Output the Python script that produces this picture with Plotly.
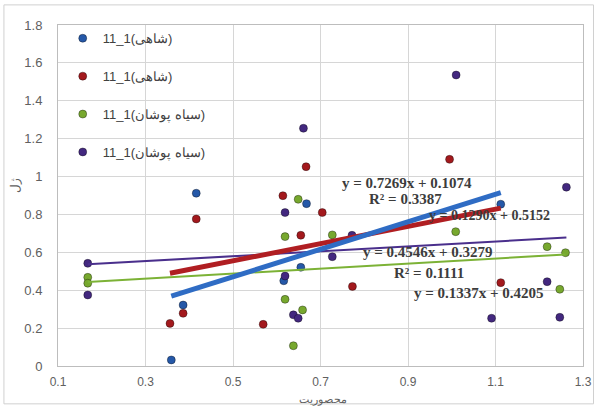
import plotly.graph_objects as go

# ---- data ----
series_names = ["11_1(شاهی)", "11_1(شاهی)", "11_1(سیاه پوشان)", "11_1(سیاه پوشان)"]

blue_x = [0.359, 0.386, 0.416, 0.616, 0.655, 0.668, 1.112]
blue_y = [0.032, 0.322, 0.912, 0.450, 0.521, 0.857, 0.854]

red_x = [0.356, 0.386, 0.416, 0.569, 0.614, 0.655, 0.667, 0.704, 0.773, 0.995, 1.112]
red_y = [0.225, 0.278, 0.776, 0.220, 0.899, 0.690, 1.052, 0.810, 0.420, 1.091, 0.440]

green_x = [0.168, 0.168, 0.619, 0.619, 0.638, 0.649, 0.659, 0.727, 1.009, 1.218, 1.247, 1.260]
green_y = [0.468, 0.437, 0.683, 0.352, 0.107, 0.880, 0.296, 0.692, 0.709, 0.630, 0.405, 0.598]

purple_x = [0.168, 0.168, 0.619, 0.619, 0.638, 0.649, 0.661, 0.727, 0.772, 1.010, 1.091, 1.218, 1.247, 1.262]
purple_y = [0.542, 0.375, 0.810, 0.475, 0.270, 0.252, 1.255, 0.577, 0.690, 1.536, 0.252, 0.445, 0.257, 0.944]

# trend line coefficients (slope, intercept) per series: blue, red, green, purple
trend_slope = [0.7269, 0.4546, 0.1337, 0.1290]
trend_intercept = [0.1074, 0.3279, 0.4205, 0.5152]

eq_texts = ["y = 0.7269x + 0.1074", "R² = 0.3387", "y = 0.1290x + 0.5152",
            "y = 0.4546x + 0.3279", "R² = 0.1111", "y = 0.1337x + 0.4205"]
eq_x = [0.898, 0.894, 1.228, 0.946, 0.948, 1.063]
eq_y = [0.966, 0.882, 0.792, 0.602, 0.491, 0.385]
eq_anchor = ["center", "center", "right", "center", "center", "center"]
eq_size = [15, 15, 14, 15, 15, 15]

x_title = "محصوریت"
y_title = "ژل"

# ---- styling ----
marker_colors = ["#2558a8", "#a3191d", "#77a82e", "#43287f"]
line_colors = ["#2f6cc4", "#b01e22", "#7cb236", "#4a2f8c"]
line_widths = [5, 5, 2, 2]

xs = [blue_x, red_x, green_x, purple_x]
ys = [blue_y, red_y, green_y, purple_y]

fig = go.Figure()

for i in range(4):
    fig.add_trace(go.Scatter(
        x=xs[i], y=ys[i], mode="markers", name=series_names[i],
        legendgroup="g%d" % i,
        marker=dict(size=8, color=marker_colors[i],
                    line=dict(width=1, color="rgba(0,0,0,0.35)")),
    ))

for t, ax, ay, anc, fs in zip(eq_texts, eq_x, eq_y, eq_anchor, eq_size):
    fig.add_annotation(x=ax, y=ay, text="<b>%s</b>" % t, showarrow=False,
                       xanchor=anc, yanchor="middle",
                       font=dict(family="Liberation Serif", size=fs, color="#3c3c3c"))

# trend lines over each series' x range
for i in [3, 2, 1, 0]:
    x0, x1 = min(xs[i]), max(xs[i])
    fig.add_trace(go.Scatter(
        x=[x0, x1],
        y=[trend_slope[i] * x0 + trend_intercept[i], trend_slope[i] * x1 + trend_intercept[i]],
        mode="lines", line=dict(color=line_colors[i], width=line_widths[i]),
        showlegend=False, hoverinfo="skip",
    ))

# axis titles
fig.add_annotation(xref="paper", yref="paper", x=0.504, y=-0.094, text=x_title,
                   showarrow=False, xanchor="center", yanchor="middle",
                   font=dict(family="Noto Sans", size=11, color="#606060"))
fig.add_annotation(xref="paper", yref="paper", x=-0.083, y=0.53, text=y_title,
                   showarrow=False, textangle=-90, xanchor="center", yanchor="middle",
                   font=dict(family="Noto Sans", size=12, color="#606060"))

# outer chart border
fig.add_shape(type="rect", xref="paper", yref="paper",
              x0=-0.103, x1=1.02, y0=-0.111, y1=1.059,
              line=dict(color="#d0d0d0", width=1), layer="below")

axis_common = dict(showgrid=True, gridcolor="#d6d6d6", gridwidth=1,
                   showline=True, linecolor="#bdbdbd", linewidth=1, mirror=True,
                   zeroline=False, ticks="",
                   tickfont=dict(family="Liberation Sans", size=12, color="#606060"))

fig.update_xaxes(range=[0.1, 1.3], tick0=0.1, dtick=0.2, ticklabelstandoff=5,
                 **axis_common)
fig.update_yaxes(range=[0, 1.8], tick0=0, dtick=0.2, ticklabelstandoff=12,
                 tickfont=dict(family="Liberation Sans", size=13, color="#606060"))
fig.update_yaxes(**{k: v for k, v in axis_common.items() if k != "tickfont"})

fig.update_layout(
    width=604, height=407,
    margin=dict(l=58, r=14, t=25, b=41),
    paper_bgcolor="white", plot_bgcolor="white",
    showlegend=True,
    legend=dict(x=0.009, y=1.005, xanchor="left", yanchor="top",
                bgcolor="rgba(0,0,0,0)", tracegroupgap=18,
                font=dict(family="Liberation Sans", size=13, color="#404040"),
                itemwidth=30),
)

fig.write_html("out.html", config={"displayModeBar": False},
               post_script="document.body.style.margin='0px';")
